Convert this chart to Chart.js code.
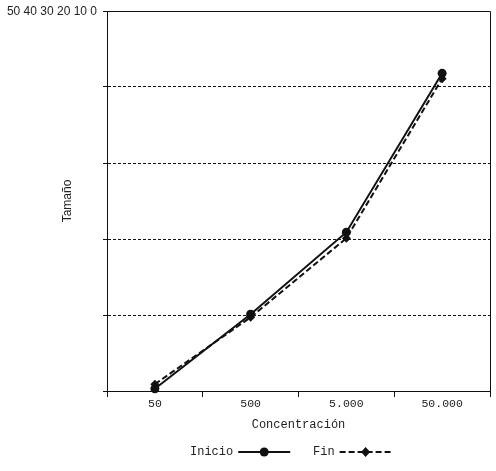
<!DOCTYPE html>
<html>
<head>
<meta charset="utf-8">
<script src="https://cdn.jsdelivr.net/npm/chart.js@4.4.1/dist/chart.umd.min.js"></script>
<style>
  html, body { margin: 0; padding: 0; background: #fff; }
  #wrap { width: 496px; height: 471px; }
</style>
</head>
<body>
<div id="wrap"><canvas id="chart" width="496" height="471"></canvas></div>
<script>
(function () {
  "use strict";

  var categories = ["50", "500", "5.000", "50.000"];
  var inicio = [0.3, 10.1, 20.9, 41.8];
  var fin = [0.9, 9.7, 20.1, 41.1];
  var yTickLabels = ["50", "40", "30", "20", "10", "0"];
  var xTitle = "Concentración";
  var yTitle = "Tamaño";

  var mono = "'Liberation Mono', 'Courier New', monospace";
  var sans = "'Liberation Sans', Arial, sans-serif";

  // frame, y labels squashed at top-left, axis titles and legend
  var extras = {
    id: "extras",
    afterDraw: function (chart) {
      var ctx = chart.ctx;
      var a = chart.chartArea;
      ctx.save();
      ctx.strokeStyle = "#111";
      ctx.lineWidth = 1;
      ctx.beginPath();
      ctx.moveTo(a.left - 4, a.top + 0.5);
      ctx.lineTo(a.right + 0.5, a.top + 0.5);
      ctx.lineTo(a.right + 0.5, a.bottom + 6);
      ctx.moveTo(a.left + 0.5, a.top);
      ctx.lineTo(a.left + 0.5, a.bottom);
      ctx.stroke();

      ctx.fillStyle = "#222";
      ctx.font = "12px " + sans;
      ctx.textBaseline = "middle";
      ctx.textAlign = "right";
      ctx.fillText(yTickLabels.join(" "), a.left - 10, a.top + 1);

      ctx.save();
      ctx.translate(68, (a.top + a.bottom) / 2);
      ctx.rotate(-Math.PI / 2);
      ctx.textAlign = "center";
      ctx.fillText(yTitle, 0, 0);
      ctx.restore();

      ctx.font = "12px " + mono;
      ctx.textAlign = "center";
      ctx.fillText(xTitle, (a.left + a.right) / 2, 425);

      // legend
      var items = chart.data.datasets;
      var y = 452;
      var starts = [190, 313];
      ctx.textAlign = "left";
      items.forEach(function (ds, i) {
        var x = starts[i];
        ctx.fillStyle = "#222";
        ctx.fillText(ds.label, x, y);
        var w = ctx.measureText(ds.label).width;
        var lx = x + w + 5;
        ctx.strokeStyle = "#111";
        ctx.lineWidth = 2;
        ctx.setLineDash(ds.borderDash || []);
        ctx.beginPath();
        ctx.moveTo(lx, y);
        ctx.lineTo(lx + 52, y);
        ctx.stroke();
        ctx.setLineDash([]);
        var cx = lx + 26;
        ctx.fillStyle = "#111";
        ctx.beginPath();
        if (ds.pointStyle === "rectRot") {
          ctx.moveTo(cx, y - 5);
          ctx.lineTo(cx + 4.5, y);
          ctx.lineTo(cx, y + 5);
          ctx.lineTo(cx - 4.5, y);
          ctx.closePath();
        } else {
          ctx.arc(cx, y, 4.5, 0, Math.PI * 2);
        }
        ctx.fill();
      });
      ctx.restore();
    }
  };

  new Chart(document.getElementById("chart").getContext("2d"), {
    type: "line",
    data: {
      labels: categories,
      datasets: [
        {
          label: "Inicio",
          data: inicio,
          borderColor: "#111",
          backgroundColor: "#111",
          borderWidth: 2,
          pointStyle: "circle",
          pointRadius: 4.5,
          pointBorderWidth: 0,
          clip: false,
          tension: 0
        },
        {
          label: "Fin",
          data: fin,
          borderColor: "#111",
          backgroundColor: "#111",
          borderWidth: 2,
          borderDash: [6, 3],
          pointStyle: "rectRot",
          pointRadius: 4.5,
          pointBorderWidth: 0,
          clip: false,
          tension: 0
        }
      ]
    },
    options: {
      responsive: false,
      animation: false,
      layout: { padding: { top: 11, right: 6, left: 0, bottom: 0 } },
      plugins: {
        legend: { display: false },
        tooltip: { enabled: false }
      },
      scales: {
        x: {
          offset: true,
          border: { color: "#111", width: 1 },
          grid: {
            offset: true,
            drawOnChartArea: false,
            drawTicks: true,
            tickLength: 6,
            tickColor: "#111"
          },
          ticks: {
            color: "#222",
            font: { family: mono, size: 11.5 },
            padding: 0,
            maxRotation: 0
          },
          afterFit: function (s) { s.height = 80; }
        },
        y: {
          min: 0,
          max: 50,
          border: { color: "#111", width: 1, dash: [3, 2] },
          grid: {
            color: function (c) {
              return (c.tick && (c.tick.value === 0 || c.tick.value === 50)) ? "rgba(0,0,0,0)" : "#111";
            },
            tickBorderDash: [],
            tickColor: "#111",
            tickLength: 4,
            lineWidth: 1
          },
          ticks: { display: false, stepSize: 10 },
          afterFit: function (s) { s.width = 107; }
        }
      }
    },
    plugins: [extras]
  });
})();
</script>
</body>
</html>
